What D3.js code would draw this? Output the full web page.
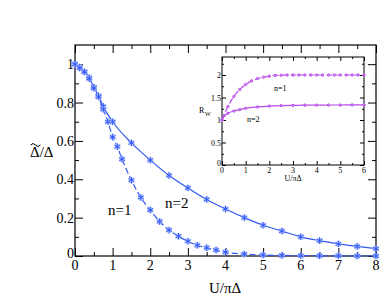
<!DOCTYPE html>
<html>
<head>
<meta charset="utf-8">
<script src="https://cdn.jsdelivr.net/npm/d3@7"></script>
<style>
  body { margin: 0; background: white; }
</style>
</head>
<body>
<svg id="plot"></svg>
<script>
// main panel data: U/piDelta vs Delta~/Delta
const u1 = [0, 0.125, 0.25, 0.375, 0.5, 0.625, 0.75, 0.875, 1.0, 1.125, 1.25, 1.5, 1.75, 2.0, 2.25, 2.5, 2.75, 3.0, 3.25, 3.5, 3.75, 4.0, 4.5, 5.0, 5.5, 6.0, 6.5, 7.0, 7.5, 8.0];
const gap1 = [1, 0.98, 0.96, 0.925, 0.875, 0.83, 0.765, 0.70, 0.62, 0.57, 0.505, 0.395, 0.305, 0.24, 0.18, 0.135, 0.103, 0.077, 0.056, 0.043, 0.031, 0.02, 0.01, 0.005, 0.003, 0.002, 0.001, 0.001, 0, 0];
const u2 = [0, 0.125, 0.25, 0.375, 0.5, 0.625, 0.75, 1.0, 1.5, 2.0, 2.5, 3.0, 3.5, 4.0, 4.5, 5.0, 5.5, 6.0, 6.5, 7.0, 7.5, 8.0];
const gap2 = [1, 0.985, 0.96, 0.93, 0.88, 0.835, 0.78, 0.70, 0.59, 0.50, 0.42, 0.355, 0.295, 0.245, 0.20, 0.16, 0.13, 0.10, 0.08, 0.063, 0.05, 0.038];

// inset data: U/piDelta vs R_W
const ui1 = [0, 0.25, 0.5, 0.75, 1.0, 1.25, 1.5, 1.75, 2.0, 2.25, 2.5, 2.75, 3.0, 3.25, 3.5, 3.75, 4.0, 4.25, 4.5, 4.75, 5.0, 5.25, 5.5, 5.75, 6.0];
const rw1 = [1.0, 1.30, 1.52, 1.68, 1.79, 1.87, 1.92, 1.95, 1.975, 1.99, 1.995, 2, 2, 2, 2, 2, 2, 2, 2, 2, 2, 2, 2, 2, 2];
const ui2 = [0, 0.1, 0.25, 0.5, 0.75, 1.0, 1.5, 2.0, 2.5, 3.0, 3.5, 4.0, 4.5, 5.0, 5.5, 6.0];
const rw2 = [1.0, 1.1, 1.15, 1.2, 1.23, 1.26, 1.29, 1.31, 1.32, 1.325, 1.33, 1.33, 1.333, 1.333, 1.335, 1.335];

const xTicks = [0, 1, 2, 3, 4, 5, 6, 7, 8];
const yTicks = [0, 0.2, 0.4, 0.6, 0.8, 1];
const yTickLabels = ['0', '0.2', '0.4', '0.6', '0.8', '1'];
const xiTicks = [0, 1, 2, 3, 4, 5, 6];
const yiTicks = [0, 0.5, 1, 1.5, 2];
const yiTickLabels = ['0', '0.5', '1', '1.5', '2'];

let width = 390, height = 302;
const serif = '"Liberation Serif", "Times New Roman", "DejaVu Serif", serif';
let svg = d3.select('#plot')
  .attr('width', width)
  .attr('height', height)
  .style('background', 'white')
  .attr('font-family', serif);

const blue = '#3358f5', blueHalo = '#aabdff';
const mag = '#b848ea', magHalo = '#dcaaf6';

// ---------- main panel ----------
let mLeft = 75, mRight = 376, mTop = 45, mBottom = 256;
let x = d3.scaleLinear().domain([0, 8]).range([mLeft, mRight]);
let y = d3.scaleLinear().domain([0, 1.1]).range([mBottom, mTop]);

function frameTicks(g, xs, ys, xv, yv, len) {
  let [x0, x1] = xs.range(), [y0, y1] = ys.range();
  g.append('g').attr('transform', `translate(0,${y0})`)
    .call(d3.axisBottom(xs).tickValues(xv).tickSize(-len).tickFormat(''));
  g.append('g').attr('transform', `translate(0,${y1})`)
    .call(d3.axisTop(xs).tickValues(xv).tickSize(-len).tickFormat(''));
  g.append('g').attr('transform', `translate(${x0},0)`)
    .call(d3.axisLeft(ys).tickValues(yv).tickSize(-len).tickFormat(''));
  g.append('g').attr('transform', `translate(${x1},0)`)
    .call(d3.axisRight(ys).tickValues(yv).tickSize(-len).tickFormat(''));
  g.selectAll('.domain').remove();
  g.selectAll('line').attr('stroke', 'black').attr('stroke-width', 1);
}

function label(g, txt, px, py, size, anchor) {
  return g.append('text').attr('x', px).attr('y', py)
    .attr('text-anchor', anchor || 'start')
    .style('font-family', serif).style('font-size', size + 'px')
    .attr('fill', 'black').text(txt);
}

let mg = svg.append('g');
let xMinor = d3.range(0.5, 8, 1), yMinor = d3.range(0.1, 1.1, 0.2);
frameTicks(mg, x, y, xMinor, yMinor, 4);
frameTicks(mg, x, y, xTicks, yTicks, 8);

// tick labels
xTicks.forEach(d => label(mg, d, x(d), mBottom + 14, 14, 'middle'));
yTicks.forEach((d, i) => label(mg, yTickLabels[i], mLeft - 1, y(d) + (i === 0 ? 2 : 5), 14, 'end'));

mg.append('rect').attr('x', mLeft).attr('y', mTop).attr('width', mRight - mLeft).attr('height', mBottom - mTop)
  .attr('fill', 'none').attr('stroke', 'black').attr('stroke-width', 1.2);

function drawSeries(g, xs, ys, us, vs, color, halo, dash, sym, sz, haloR, lw) {
  let line = d3.line().x((d, i) => xs(us[i])).y(d => ys(d)).curve(d3.curveMonotoneX);
  g.append('path').datum(vs).attr('d', line)
    .attr('fill', 'none').attr('stroke', color).attr('stroke-width', lw)
    .attr('stroke-dasharray', dash);
  let pts = g.append('g').selectAll('g').data(vs).enter().append('g')
    .attr('transform', (d, i) => `translate(${xs(us[i])},${ys(d)})`);
  pts.append('circle').attr('r', haloR).attr('fill', halo).attr('opacity', 0.8);
  pts.append('path').attr('d', d3.symbol().type(sym).size(sz))
    .attr('fill', 'none').attr('stroke', color).attr('stroke-width', 1);
}

drawSeries(mg, x, y, u2, gap2, blue, blueHalo, null, d3.symbolAsterisk, 30, 3.2, 1.2);
drawSeries(mg, x, y, u1, gap1, blue, blueHalo, '6,3', d3.symbolAsterisk, 30, 3.2, 1.2);

label(mg, 'n=1', 108, 215, 15);
label(mg, 'n=2', 165, 208, 15);

label(svg, 'U/πΔ', 225, 293, 15, 'middle');
label(svg, 'Δ/Δ', 30, 157, 15);
// tilde over the first Delta
svg.append('path').attr('d', 'M30.5,145 q2.5,-3 5,0 t5,0')
  .attr('fill', 'none').attr('stroke', 'black').attr('stroke-width', 1);

// ---------- inset ----------
let il = 222, ir = 364, it = 57, ib = 165;
let xi = d3.scaleLinear().domain([0, 6]).range([il, ir]);
let yi = d3.scaleLinear().domain([0, 2.4]).range([ib, it]);
let ig = svg.append('g');
ig.append('rect').attr('x', il).attr('y', it).attr('width', ir - il).attr('height', ib - it)
  .attr('fill', 'white').attr('stroke', 'black').attr('stroke-width', 1);
let xiMinor = d3.range(0.5, 6, 1), yiMinor = d3.range(0.25, 2.4, 0.5);
frameTicks(ig, xi, yi, xiMinor, yiMinor, 2);
frameTicks(ig, xi, yi, xiTicks, yiTicks, 4);

xiTicks.forEach(d => label(ig, d, xi(d), ib + 8, 8, 'middle'));
yiTicks.forEach((d, i) => label(ig, yiTickLabels[i], il - 1, yi(d) + (i === 0 ? 1 : 3), 8, 'end'));

drawSeries(ig, xi, yi, ui2, rw2, mag, magHalo, null, d3.symbolCircle, 4, 1.6, 1.2);
drawSeries(ig, xi, yi, ui1, rw1, mag, magHalo, '6,3', d3.symbolCircle, 4, 1.6, 1.2);

label(ig, 'n=1', 274, 91, 8);
label(ig, 'n=2', 247, 122, 8);
label(ig, 'R', 199, 113, 8);
label(ig, 'W', 205, 116, 6);
label(ig, 'U/πΔ', 293, 181, 8, 'middle');
</script>
</body>
</html>
